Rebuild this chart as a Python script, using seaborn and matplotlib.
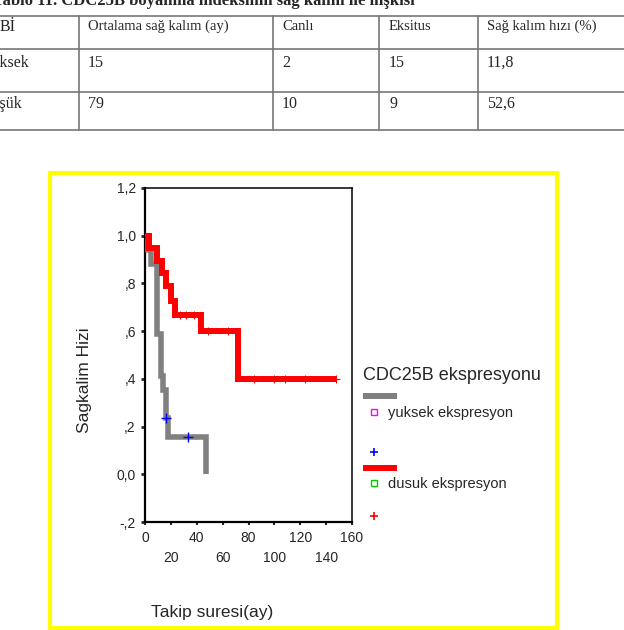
import matplotlib
matplotlib.use("Agg")
import matplotlib.pyplot as plt
import seaborn as sns
import pandas as pd
from matplotlib.lines import Line2D
from matplotlib.patches import Rectangle

sns.set_style("white")
plt.rcParams['font.family'] = ['Liberation Sans', 'DejaVu Sans']

# Kaplan-Meier steps (time in months, survival)
yuksek_t = [0, 2, 5, 9, 12, 14, 16, 18, 47]
yuksek_s = [1.0, 0.941, 0.882, 0.588, 0.412, 0.353, 0.235, 0.157, 0.0]
yuksek_cens_t = [16.5, 33.5]
yuksek_cens_s = [0.235, 0.157]

dusuk_t = [0, 3, 9, 13, 16, 20, 23, 43, 72, 148]
dusuk_s = [1.0, 0.947, 0.895, 0.842, 0.789, 0.725, 0.667, 0.600, 0.400, 0.400]
dusuk_cens_t = [27, 32, 38, 49, 64, 84, 100, 108, 124, 148]
dusuk_cens_s = [0.667, 0.667, 0.667, 0.600, 0.600, 0.400, 0.400, 0.400, 0.400, 0.400]

y_ticks = [-0.2, 0.0, 0.2, 0.4, 0.6, 0.8, 1.0, 1.2]
y_ticklabels = ["-,2", "0,0", ",2", ",4", ",6", ",8", "1,0", "1,2"]
x_major = [0, 40, 80, 120, 160]
x_minor = [20, 60, 100, 140]

# table above the chart
tbl_header = ["Bİ", "Ortalama sağ kalım (ay)", "Canlı", "Eksitus", "Sağ kalım hızı (%)"]
tbl_rows = [["Yüksek", "15", "2", "15", "11,8"],
            ["Düşük", "79", "10", "9", "52,6"]]

df_y = pd.DataFrame({"t": yuksek_t, "s": yuksek_s})
df_d = pd.DataFrame({"t": dusuk_t, "s": dusuk_s})

fig = plt.figure(figsize=(6.24, 6.30), dpi=100)
ax = fig.add_axes([0.2324, 0.1714, 0.3317, 0.5302])

sns.lineplot(data=df_y, x="t", y="s", ax=ax, estimator=None, color="#808080",
             linewidth=4.0, drawstyle="steps-post", solid_joinstyle="miter",
             solid_capstyle="butt", zorder=3)
sns.scatterplot(x=dusuk_cens_t, y=dusuk_cens_s, ax=ax, marker="+", color="#ff0000",
                s=34, linewidth=0.8, zorder=3.5)
sns.lineplot(data=df_d, x="t", y="s", ax=ax, estimator=None, color="#ff0000",
             linewidth=4.3, drawstyle="steps-post", solid_joinstyle="miter",
             solid_capstyle="butt", zorder=4)
sns.scatterplot(x=yuksek_cens_t, y=yuksek_cens_s, ax=ax, marker="+", color="#0000ff",
                s=45, linewidth=1.0, zorder=5)

ax.set_xlim(0, 160)
ax.set_ylim(-0.2, 1.2)
ax.set_yticks(y_ticks)
ax.set_yticklabels(y_ticklabels)
ax.set_xticks(x_major)
ax.set_xticklabels([str(v) for v in x_major])
ax.set_xticks(x_minor, minor=True)
ax.set_xticklabels([str(v) for v in x_minor], minor=True)
ax.tick_params(axis="y", direction="out", length=3, width=2, pad=3.6, labelsize=10, left=True)
ax.tick_params(axis="x", which="both", direction="out", length=2.5, width=1.5,
               labelsize=10, bottom=True)
ax.tick_params(axis="x", which="major", pad=4)
ax.tick_params(axis="x", which="minor", pad=18.5)
for sp in ax.spines.values():
    sp.set_color("black")
    sp.set_linewidth(1.1)
ax.spines["left"].set_linewidth(1.6)
ax.spines["bottom"].set_linewidth(1.6)

ax.set_xlabel("Takip suresi(ay)", fontsize=12.5)
ax.set_ylabel("Sagkalim Hizi", fontsize=12.5)
ax.xaxis.set_label_coords(0.324, -0.249)
ax.yaxis.set_label_coords(-0.256, 0.425)

# overlay in pixel coordinates for frame, legend and table
ov = fig.add_axes([0, 0, 1, 1])
ov.set_xlim(0, 624)
ov.set_ylim(630, 0)
ov.axis("off")
ov.patch.set_visible(False)

ov.add_patch(Rectangle((50, 173), 507, 455, fill=False, edgecolor="#ffff00", linewidth=3))

# legend
ov.text(363, 375, "CDC25B ekspresyonu", fontsize=13, va="center", ha="left")
ov.add_line(Line2D([363, 397], [396, 396], color="#808080", linewidth=4.3, solid_capstyle="butt"))
ov.plot([373.5], [411.5], marker="s", markersize=4, markerfacecolor="none",
        markeredgecolor="#ff00ff", markeredgewidth=1)
ov.text(388, 413, "yuksek ekspresyon", fontsize=10.5, va="center", ha="left")
ov.plot([374], [452], marker="+", markersize=6, color="#0000ff", markeredgewidth=1.2)
ov.add_line(Line2D([363, 397], [468, 468], color="#ff0000", linewidth=4.3, solid_capstyle="butt"))
ov.plot([373.5], [483], marker="s", markersize=4, markerfacecolor="none",
        markeredgecolor="#00cc00", markeredgewidth=1)
ov.text(388, 484, "dusuk ekspresyon", fontsize=10.5, va="center", ha="left")
ov.plot([374], [516], marker="+", markersize=6, color="#ff0000", markeredgewidth=1.2)

# table (cropped at the page edges like the source scan)
serif = ["Liberation Serif", "DejaVu Serif"]
ov.text(415, 5, "Tablo 11. CDC25B boyanma indeksinin sağ kalım ile ilişkisi",
        family=serif, fontweight="bold", fontsize=12, ha="right", va="baseline")
for yy in [16, 49, 92, 130]:
    ov.add_line(Line2D([0, 624], [yy, yy], color="#777777", linewidth=1.2))
for xx in [79, 273, 379, 478]:
    ov.add_line(Line2D([xx, xx], [16, 130], color="#777777", linewidth=1.2))
col_x = [1, 88, 282, 389, 487]
ov.text(0, 31, tbl_header[0], family=serif, fontsize=11.5, va="baseline", ha="left")
for cx, txt in zip(col_x[1:], tbl_header[1:]):
    ov.text(cx, 30, txt, family=serif, fontsize=10.5, va="baseline", ha="left")
for ry, row in zip([67, 108], tbl_rows):
    ov.text(-19, ry, row[0], family=serif, fontsize=11.5, va="baseline", ha="left")
    for cx, txt in zip(col_x[1:], row[1:]):
        ov.text(cx, ry, txt, family=serif, fontsize=11.5, va="baseline", ha="left")

fig.savefig("out.png", dpi=100)
